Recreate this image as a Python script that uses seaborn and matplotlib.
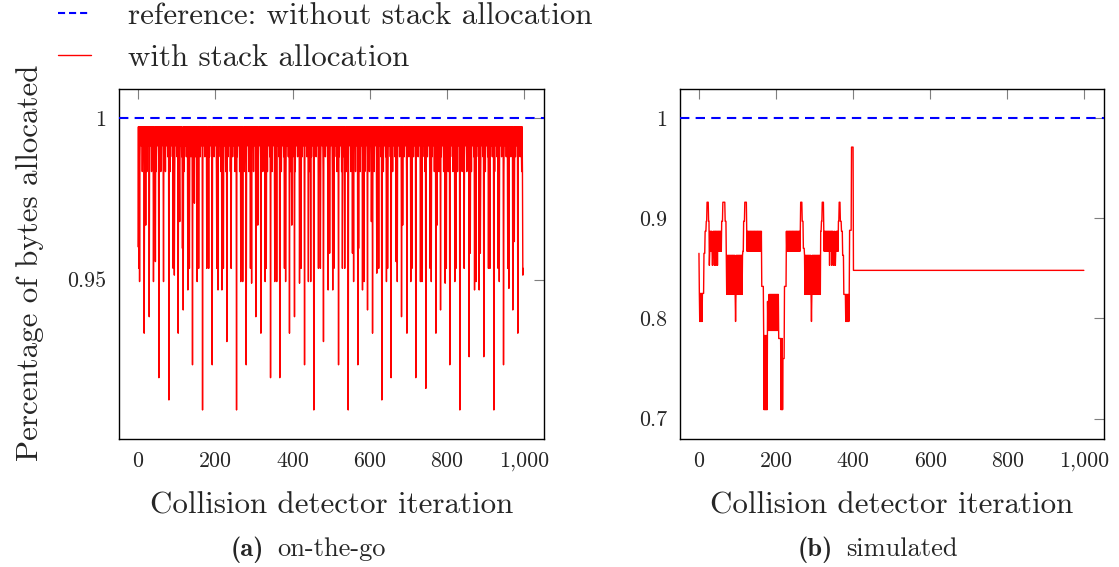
import numpy as np
import pandas as pd
import matplotlib
matplotlib.use("Agg")
import matplotlib.pyplot as plt
import seaborn as sns
from matplotlib.lines import Line2D

# ---------------- data ----------------
reference_value = 1.0

# (a) on-the-go: iterations 0..997, top band plus read dips
n_iter_a = 998
top_band_cycle = [0.9974, 0.9974, 0.9915, 0.9974, 0.9974, 0.9881,
                  0.9974, 0.9974, 0.9915, 0.9974, 0.9974, 0.9835]
dip_iters_a = [0, 2, 4, 16, 20, 29, 40, 45, 54, 66, 71, 80, 91, 94, 104, 108, 115, 117,
               129, 133, 141, 146, 153, 157, 167, 178, 183, 192, 204, 207, 217, 221, 230,
               241, 255, 266, 271, 280, 291, 294, 305, 310, 318, 329, 332, 343, 354, 359,
               367, 379, 382, 392, 398, 405, 418, 422, 431, 441, 447, 455, 467, 472, 480,
               492, 496, 504, 507, 519, 529, 535, 544, 555, 558, 569, 571, 581, 585, 594,
               604, 607, 618, 623, 631, 643, 646, 655, 668, 671, 682, 685, 696, 706, 709,
               719, 731, 735, 745, 756, 759, 771, 774, 783, 795, 798, 807, 820, 823, 833,
               844, 857, 860, 871, 875, 883, 886, 895, 907, 911, 921, 932, 935, 946, 957,
               960, 970, 974, 983, 993, 996, 997]
dip_values_a = [0.9602, 0.9535, 0.9494, 0.9334, 0.9669, 0.9385, 0.9494, 0.9556, 0.9196,
                0.9494, 0.9835, 0.9127, 0.9535, 0.9514, 0.9334, 0.9680, 0.9597, 0.9406,
                0.9468, 0.9535, 0.9236, 0.9737, 0.9494, 0.9535, 0.9096, 0.9535, 0.9535,
                0.9236, 0.9535, 0.9468, 0.9468, 0.9535, 0.9308, 0.9535, 0.9096, 0.9494,
                0.9494, 0.9236, 0.9535, 0.9489, 0.9385, 0.9669, 0.9334, 0.9494, 0.9535,
                0.9196, 0.9494, 0.9494, 0.9196, 0.9535, 0.9494, 0.9334, 0.9669, 0.9385,
                0.9489, 0.9535, 0.9236, 0.9494, 0.9494, 0.9096, 0.9535, 0.9535, 0.9308,
                0.9468, 0.9582, 0.9468, 0.9535, 0.9236, 0.9535, 0.9535, 0.9096, 0.9582,
                0.9494, 0.9236, 0.9597, 0.9468, 0.9494, 0.9406, 0.9680, 0.9334, 0.9520,
                0.9535, 0.9127, 0.9494, 0.9535, 0.9196, 0.9556, 0.9494, 0.9385, 0.9669,
                0.9334, 0.9494, 0.9535, 0.9196, 0.9494, 0.9494, 0.9163, 0.9535, 0.9494,
                0.9334, 0.9669, 0.9406, 0.9489, 0.9535, 0.9236, 0.9494, 0.9535, 0.9096,
                0.9535, 0.9261, 0.9582, 0.9468, 0.9494, 0.9468, 0.9582, 0.9261, 0.9535,
                0.9535, 0.9096, 0.9535, 0.9494, 0.9236, 0.9535, 0.9473, 0.9406, 0.9618,
                0.9334, 0.9835, 0.9514, 0.9535]

# (b) simulated: iterations 0..999, piecewise segments alternating between two levels
n_iter_b = 1000
seg_start_b = [0, 1, 9, 13, 16, 19, 21, 25, 27, 59, 62, 68, 71, 114, 116, 119, 124, 163,
               168, 178, 182, 207, 212, 218, 222, 227, 264, 268, 271, 274, 316, 318, 320,
               324, 362, 364, 367, 370, 373, 376, 380, 391, 396, 401]
seg_end_b = seg_start_b[1:] + [1000]
seg_high_b = [0.865, 0.825, 0.825, 0.865, 0.887, 0.897, 0.916, 0.897, 0.887, 0.897, 0.916,
              0.897, 0.863, 0.867, 0.897, 0.916, 0.887, 0.832, 0.783, 0.817, 0.824, 0.780,
              0.780, 0.760, 0.832, 0.887, 0.916, 0.897, 0.870, 0.863, 0.887, 0.897, 0.916,
              0.887, 0.897, 0.916, 0.897, 0.887, 0.863, 0.824, 0.824, 0.888, 0.971, 0.848]
seg_low_b = [0.865, 0.797, 0.825, 0.865, 0.887, 0.897, 0.916, 0.897, 0.867, 0.897, 0.916,
             0.897, 0.824, 0.867, 0.897, 0.916, 0.867, 0.832, 0.709, 0.788, 0.788, 0.780,
             0.709, 0.760, 0.832, 0.867, 0.916, 0.897, 0.870, 0.824, 0.887, 0.897, 0.916,
             0.867, 0.897, 0.916, 0.897, 0.887, 0.863, 0.824, 0.797, 0.888, 0.971, 0.848]
dip_iters_b = [27, 35, 40, 44, 48, 95, 292, 339, 345, 350, 354]
dip_values_b = [0.853, 0.853, 0.853, 0.853, 0.853, 0.797, 0.797, 0.853, 0.853, 0.853, 0.853]

x_ticks = [0, 200, 400, 600, 800, 1000]
x_tick_labels = ["0", "200", "400", "600", "800", "1,000"]
y_ticks_a = [0.95, 1.0]
y_tick_labels_a = ["0.95", "1"]
y_ticks_b = [0.7, 0.8, 0.9, 1.0]
y_tick_labels_b = ["0.7", "0.8", "0.9", "1"]

legend_labels = ["reference: without stack allocation", "with stack allocation"]
x_label = "Collision detector iteration"
y_label = "Percentage of bytes allocated"
captions = [("(a)", "on-the-go"), ("(b)", "simulated")]

# ---------------- build series ----------------
it_a = np.arange(n_iter_a)
val_a = np.array([top_band_cycle[i % len(top_band_cycle)] for i in it_a])
val_a[np.array(dip_iters_a)] = dip_values_a
df_a = pd.DataFrame({"iteration": it_a, "fraction": val_a})

it_b = np.arange(n_iter_b)
val_b = np.empty(n_iter_b)
for s, e, hi, lo in zip(seg_start_b, seg_end_b, seg_high_b, seg_low_b):
    for i in range(s, e):
        val_b[i] = hi if (i - s) % 2 == 0 else lo
val_b[np.array(dip_iters_b)] = dip_values_b
df_b = pd.DataFrame({"iteration": it_b, "fraction": val_b})

# ---------------- plotting ----------------
sns.set_style("white")
plt.rcParams['font.family'] = ['cmr10', 'DejaVu Serif']
plt.rcParams['axes.unicode_minus'] = False

W, H = 1119, 567
fig = plt.figure(figsize=(W / 100, H / 100), dpi=100)

def px_axes(l, t, r, b):
    return fig.add_axes([l / W, (H - b) / H, (r - l) / W, (b - t) / H])

axA = px_axes(118.7, 89, 543.7, 439)
axB = px_axes(679.7, 89, 1103.5, 439)

for ax, df, yt, ytl, ylim in [
        (axA, df_a, y_ticks_a, y_tick_labels_a, (0.9006, 1.0091)),
        (axB, df_b, y_ticks_b, y_tick_labels_b, (0.6797, 1.0290))]:
    ax.axhline(reference_value, color="#0000ff", lw=1.5, ls=(0, (4.5, 3.0)), zorder=3)
    sns.lineplot(data=df, x="iteration", y="fraction", ax=ax, color="#ff0000",
                 lw=1.0, estimator=None, zorder=2)
    ax.set_xlim(-50, 1050)
    ax.set_ylim(*ylim)
    ax.set_xticks(x_ticks)
    ax.set_xticklabels(x_tick_labels)
    ax.set_yticks(yt)
    ax.set_yticklabels(ytl)
    ax.tick_params(direction="in", length=7.5, width=0.8, color="#7f7f7f",
                   top=True, right=True, labelsize=15.8, pad=9)
    ax.set_xlabel(x_label, fontsize=22.3, labelpad=15)
    ax.set_ylabel("")
    for sp in ax.spines.values():
        sp.set_color("black")
        sp.set_linewidth(1.0)

fig.text(30 / W, 1 - 263 / H, y_label, rotation=90, fontsize=22.3,
         ha="center", va="center")

# subcaptions (centred under each sub-figure)
caption_centres_px = [308, 878]
for cxp, (tag, cap) in zip(caption_centres_px, captions):
    t1 = fig.text(0, 1 - 556 / H, tag, fontsize=19, family="cmb10",
                  ha="left", va="baseline")
    t2 = fig.text(0, 1 - 556 / H, cap, fontsize=19, ha="left", va="baseline")
    r = fig.canvas.get_renderer()
    w1 = t1.get_window_extent(r).width
    w2 = t2.get_window_extent(r).width
    gap = 13
    start = cxp - (w1 + gap + w2) / 2
    t1.set_x(start / W)
    t2.set_x((start + w1 + gap) / W)

handles = [Line2D([], [], color="#0000ff", lw=1.5, ls=(0, (3.4, 1.9))),
           Line2D([], [], color="#ff0000", lw=1.0)]
fig.legend(handles, legend_labels, loc="upper left", bbox_to_anchor=(58 / W, 1 - 2 / H),
           frameon=False, fontsize=22.3, handlelength=1.05, handletextpad=1.2,
           labelspacing=0.45, borderaxespad=0.0, borderpad=0.0)

fig.savefig("out.png", dpi=100)
